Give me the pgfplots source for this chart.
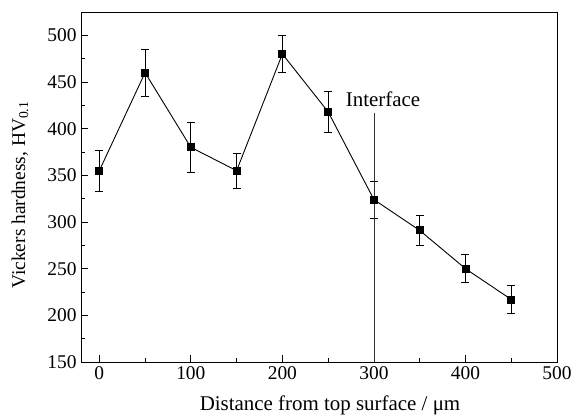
\documentclass[border=0pt]{standalone}
\usepackage{pgfplots}
\pgfplotsset{compat=1.18}
\usepackage{fontspec}
\setmainfont{Liberation Serif}
\begin{document}
\begin{tikzpicture}
\begin{axis}[
  name=ax,
  scale only axis,
  width=476bp, height=350bp,
  xmin=-20, xmax=500, ymin=150, ymax=525,
  xtick={0,100,200,300,400,500},
  ytick={150,200,250,300,350,400,450,500},
  minor xtick={50,150,250,350,450},
  minor ytick={175,225,275,325,375,425,475},
  tick align=inside,
  xtick pos=left, ytick pos=left,
  major tick length=7bp, minor tick length=4bp,
  tick style={black, line width=0.8pt},
  axis line style={line width=0.9pt},
  /pgf/number format/assume math mode=true,
  ticklabel style={font=\fontsize{19.5}{23}\selectfont},
  xticklabel style={yshift=-1bp},
  yticklabel style={xshift=-1bp},
  xlabel={Distance from top surface / μm},
  ylabel={Vickers hardness, HV\textsubscript{0.1}},
  xlabel style={font=\fontsize{21}{24}\selectfont, at={(rel axis cs:0.5,0)}, anchor=center, yshift=-43bp, xshift=11bp},
  ylabel style={font=\fontsize{19.5}{23}\selectfont, at={(rel axis cs:0,0.5)}, anchor=center, yshift=61bp, xshift=-8bp},
  clip=false,
]
\addplot[black, line width=0.9pt, mark=square*, mark size=3.5bp,
  error bars/.cd, y dir=both, y explicit,
  error bar style={line width=0.8pt},
  error mark options={rotate=90, mark size=4bp, line width=0.8pt}]
  table[x=x, y=y, y error=e] {
x y e
0 355 22
50 460 25
100 380 27
150 355 19
200 480 20
250 418 22
300 324 20
350 291 16
400 250 15
450 217 15
};
\addplot[black!80, line width=0.8pt] coordinates {(300,150) (300,417)};
\node[font=\fontsize{21}{24}\selectfont] at (axis cs:310,431) {Interface};
\end{axis}
\pgfresetboundingbox
\path ([xshift=-81bp,yshift=-55bp]ax.south west) rectangle ([xshift=17bp,yshift=12bp]ax.north east);
\end{tikzpicture}
\end{document}
